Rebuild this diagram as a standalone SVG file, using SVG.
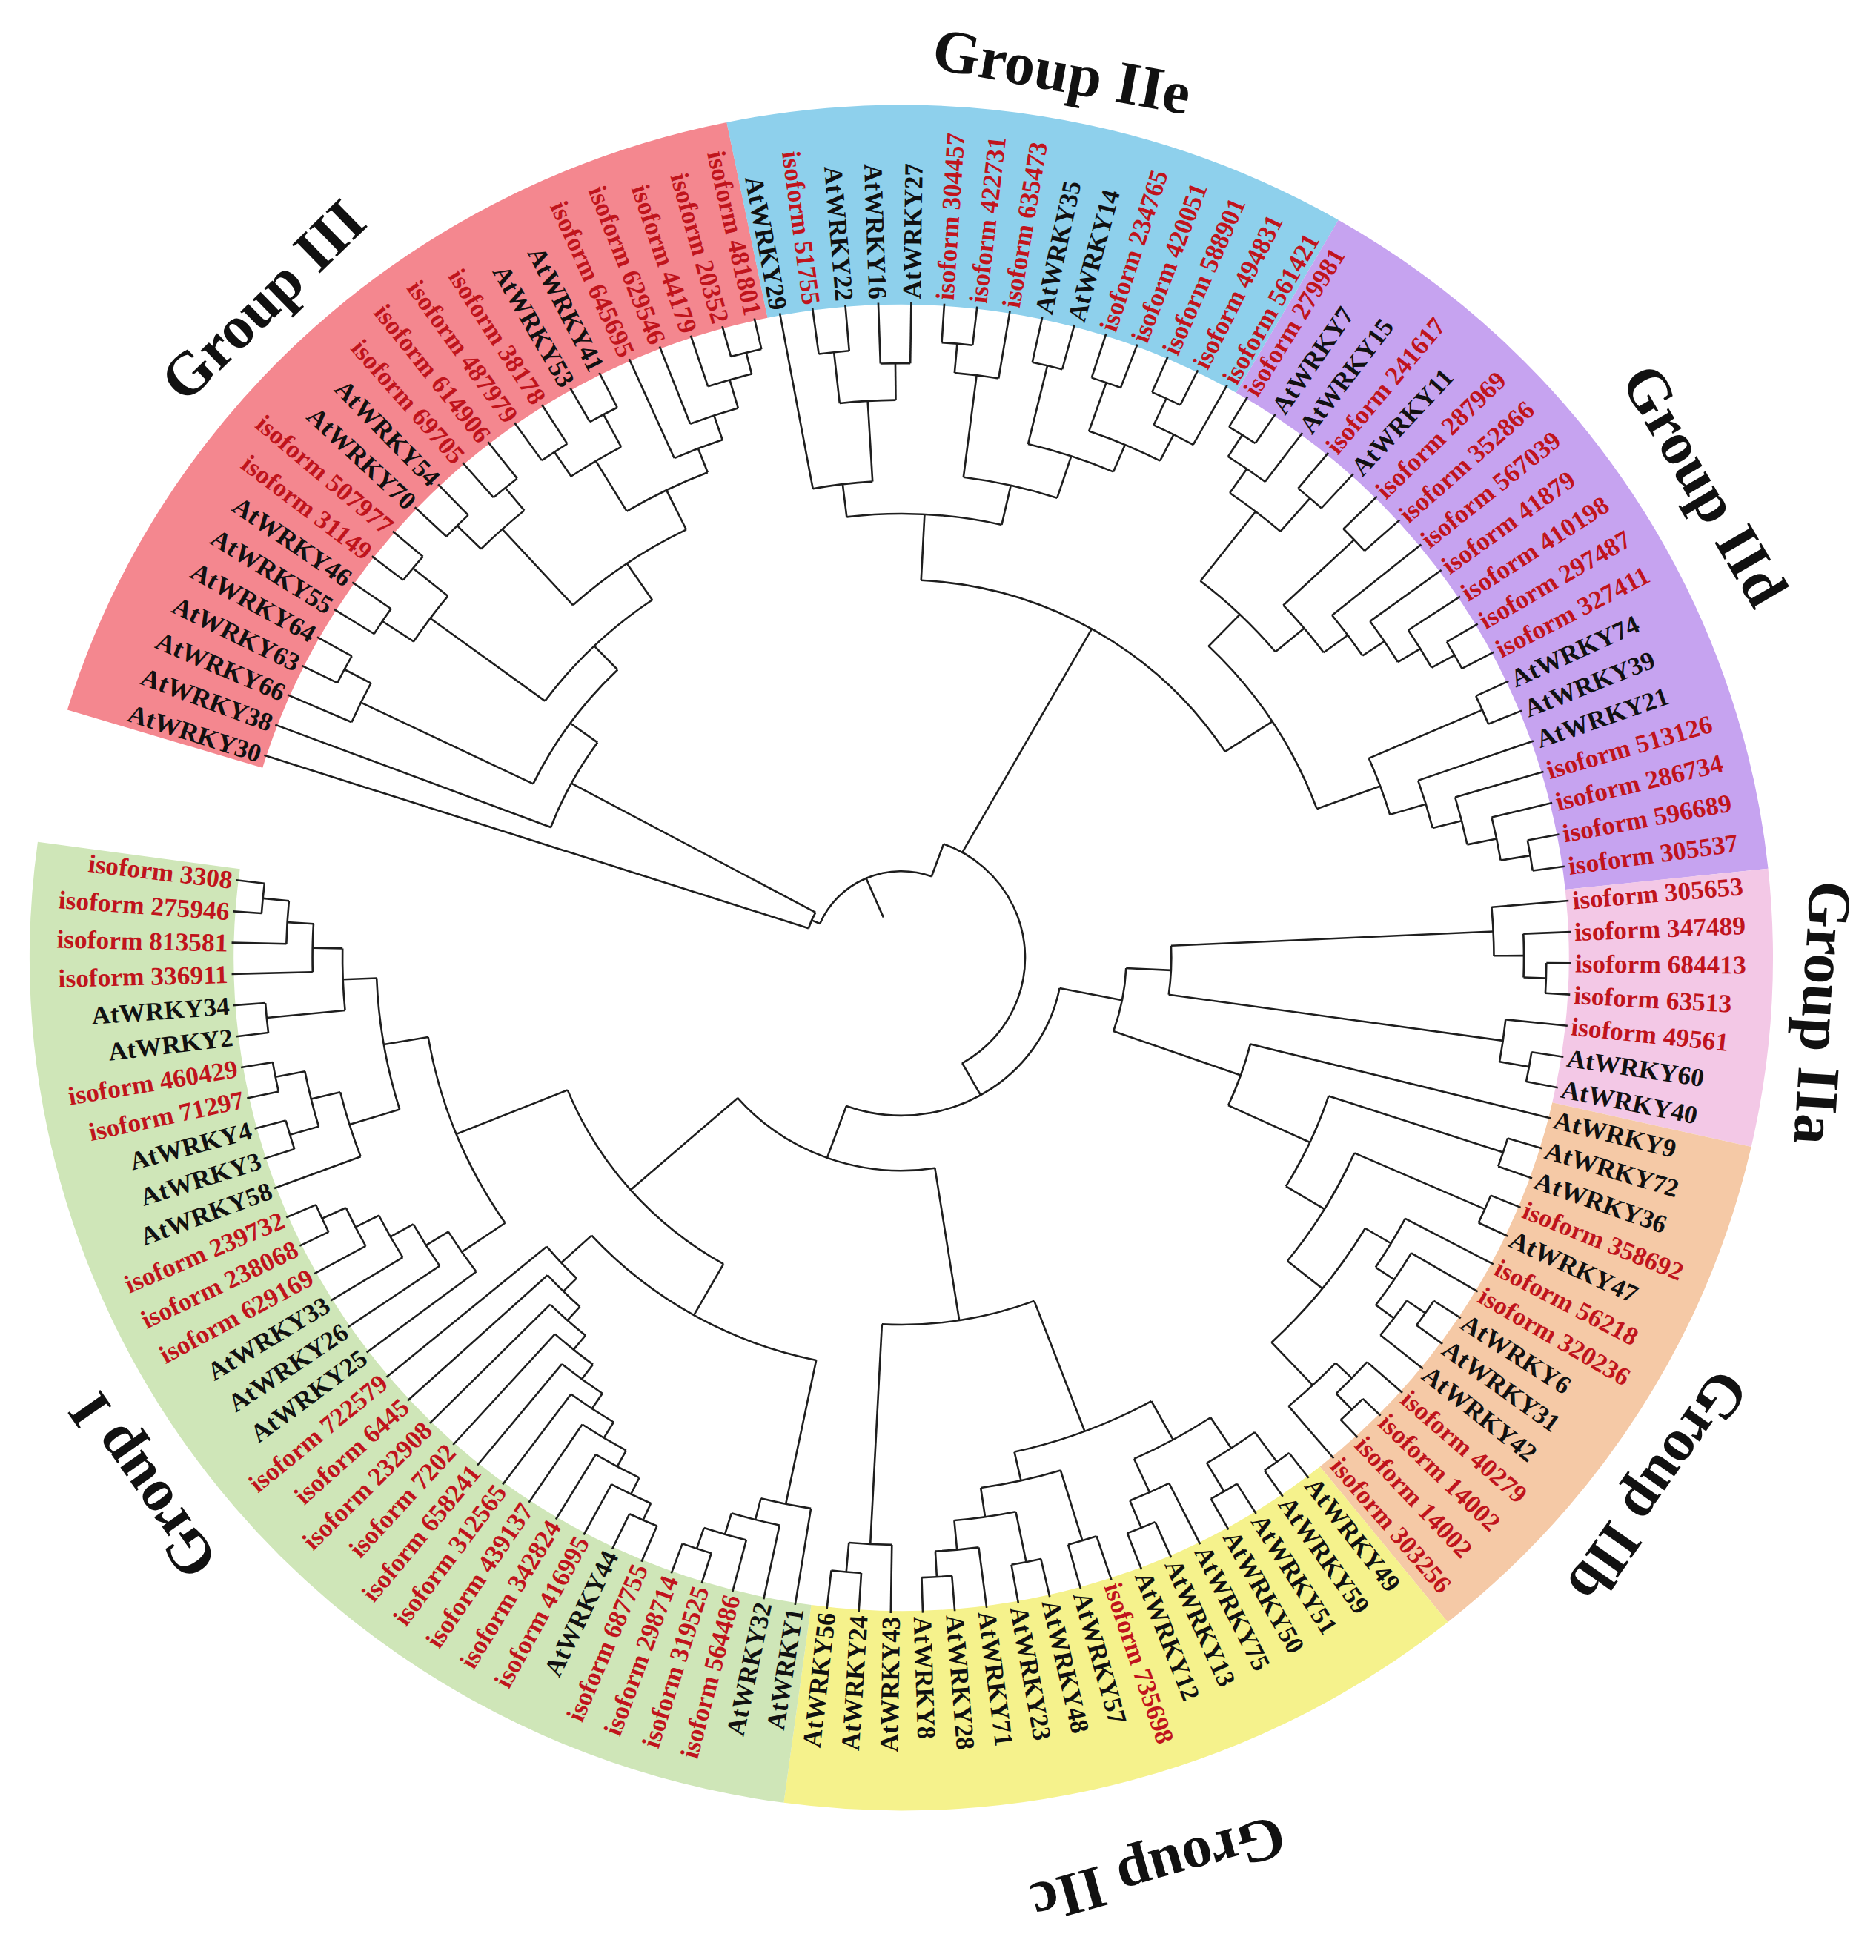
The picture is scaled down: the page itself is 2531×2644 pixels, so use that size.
<svg xmlns="http://www.w3.org/2000/svg" width="2531" height="2644" viewBox="0 0 2531 2644">
<style>
.t line,.t circle{fill:none;stroke:#1e1e1e;stroke-width:2.6}
.sec circle{fill:none;stroke-width:272}
.lb text{font-family:"Liberation Serif","Times New Roman",serif;font-size:35px;font-weight:bold;fill:#111}
.lb .r{fill:#c0141c}
.lb .e{text-anchor:end}
.gl{font-family:"Liberation Serif","Times New Roman",serif;font-size:82px;font-weight:bold;fill:#111;text-anchor:middle}
</style>
<rect width="2531" height="2644" fill="#fff"/>
<g transform="translate(1216,1292) scale(1.012,0.99)">
<g id="sectors" class="sec">
<circle id="sector-III" r="1026" stroke="#F4878F" transform="rotate(196.9)" stroke-dasharray="1102 99999"/>
<circle id="sector-IIe" r="1026" stroke="#8ED0EC" transform="rotate(258.44)" stroke-dasharray="746 99999"/>
<circle id="sector-IId" r="1026" stroke="#C6A3F0" transform="rotate(300.1)" stroke-dasharray="965.2 99999"/>
<circle id="sector-IIa" r="1026" stroke="#F3C8E6" transform="rotate(354)" stroke-dasharray="336.8 99999"/>
<circle id="sector-IIb" r="1026" stroke="#F5C9A6" transform="rotate(372.81)" stroke-dasharray="686.9 99999"/>
<circle id="sector-IIc" r="1026" stroke="#F5F28C" transform="rotate(411.17)" stroke-dasharray="834.1 99999"/>
<circle id="sector-I" r="1026" stroke="#CFE6B8" transform="rotate(457.75)" stroke-dasharray="1612.5 99999"/>
</g>
<g id="connectors" class="t">
<line x1="60" x2="118" transform="rotate(246.6)"/>
<circle r="118" transform="rotate(203.19)" stroke-dasharray="178.78 9999"/>
<g id="connectors-III" transform="rotate(1.4)">
<line x1="118" x2="130" transform="rotate(201.79)"/>
<circle r="130" transform="rotate(196.6)" stroke-dasharray="23.55 9999"/>
<line x1="130" x2="893" transform="rotate(196.6)"/>
<line x1="130" x2="500" transform="rotate(206.98)"/>
<circle r="500" transform="rotate(199.43)" stroke-dasharray="131.68 9999"/>
<line x1="500" x2="893" transform="rotate(199.43)"/>
<line x1="500" x2="545" transform="rotate(214.52)"/>
<circle r="545" transform="rotate(204.37)" stroke-dasharray="193 9999"/>
<line x1="545" x2="800" transform="rotate(204.37)"/>
<circle r="800" transform="rotate(202.25)" stroke-dasharray="59.2 9999"/>
<line x1="800" x2="893" transform="rotate(202.25)"/>
<line x1="800" x2="840" transform="rotate(206.49)"/>
<circle r="840" transform="rotate(205.08)" stroke-dasharray="41.34 9999"/>
<line x1="840" x2="893" transform="rotate(205.08)"/>
<line x1="840" x2="893" transform="rotate(207.9)"/>
<line x1="545" x2="590" transform="rotate(224.66)"/>
<circle r="590" transform="rotate(214.97)" stroke-dasharray="199.56 9999"/>
<line x1="590" x2="780" transform="rotate(214.97)"/>
<circle r="780" transform="rotate(212.14)" stroke-dasharray="76.92 9999"/>
<line x1="780" x2="830" transform="rotate(212.14)"/>
<circle r="830" transform="rotate(210.73)" stroke-dasharray="40.85 9999"/>
<line x1="830" x2="893" transform="rotate(210.73)"/>
<line x1="830" x2="893" transform="rotate(213.55)"/>
<line x1="780" x2="840" transform="rotate(217.79)"/>
<circle r="840" transform="rotate(216.38)" stroke-dasharray="41.34 9999"/>
<line x1="840" x2="893" transform="rotate(216.38)"/>
<line x1="840" x2="893" transform="rotate(219.2)"/>
<line x1="590" x2="650" transform="rotate(234.35)"/>
<circle r="650" transform="rotate(226.27)" stroke-dasharray="183.33 9999"/>
<line x1="650" x2="790" transform="rotate(226.27)"/>
<circle r="790" transform="rotate(223.44)" stroke-dasharray="77.9 9999"/>
<line x1="790" x2="835" transform="rotate(223.44)"/>
<circle r="835" transform="rotate(222.03)" stroke-dasharray="41.1 9999"/>
<line x1="835" x2="893" transform="rotate(222.03)"/>
<line x1="835" x2="893" transform="rotate(224.85)"/>
<line x1="790" x2="830" transform="rotate(229.09)"/>
<circle r="830" transform="rotate(227.68)" stroke-dasharray="40.85 9999"/>
<line x1="830" x2="893" transform="rotate(227.68)"/>
<line x1="830" x2="893" transform="rotate(230.5)"/>
<line x1="650" x2="710" transform="rotate(242.43)"/>
<circle r="710" transform="rotate(237.57)" stroke-dasharray="120.32 9999"/>
<line x1="710" x2="790" transform="rotate(237.57)"/>
<circle r="790" transform="rotate(234.74)" stroke-dasharray="77.9 9999"/>
<line x1="790" x2="830" transform="rotate(234.74)"/>
<circle r="830" transform="rotate(233.33)" stroke-dasharray="40.85 9999"/>
<line x1="830" x2="893" transform="rotate(233.33)"/>
<line x1="830" x2="893" transform="rotate(236.15)"/>
<line x1="790" x2="840" transform="rotate(240.39)"/>
<circle r="840" transform="rotate(238.98)" stroke-dasharray="41.34 9999"/>
<line x1="840" x2="893" transform="rotate(238.98)"/>
<line x1="840" x2="893" transform="rotate(241.8)"/>
<line x1="710" x2="745" transform="rotate(247.28)"/>
<circle r="745" transform="rotate(244.63)" stroke-dasharray="68.91 9999"/>
<line x1="745" x2="893" transform="rotate(244.63)"/>
<line x1="745" x2="780" transform="rotate(249.93)"/>
<circle r="780" transform="rotate(247.45)" stroke-dasharray="67.39 9999"/>
<line x1="780" x2="893" transform="rotate(247.45)"/>
<line x1="780" x2="820" transform="rotate(252.4)"/>
<circle r="820" transform="rotate(250.28)" stroke-dasharray="60.68 9999"/>
<line x1="820" x2="893" transform="rotate(250.28)"/>
<line x1="820" x2="850" transform="rotate(254.52)"/>
<circle r="850" transform="rotate(253.1)" stroke-dasharray="41.98 9999"/>
<line x1="850" x2="893" transform="rotate(253.1)"/>
<line x1="850" x2="893" transform="rotate(255.93)"/>
</g>
<line x1="118" x2="165" transform="rotate(290)"/>
<circle r="165" transform="rotate(290)" stroke-dasharray="375.87 9999"/>
<line x1="165" x2="515" transform="rotate(299.54)"/>
<circle r="515" transform="rotate(272.94)" stroke-dasharray="485.36 9999"/>
<g id="connectors-IIe" transform="rotate(0.8)">
<line x1="515" x2="605" transform="rotate(272.14)"/>
<circle r="605" transform="rotate(262.29)" stroke-dasharray="207.91 9999"/>
<line x1="605" x2="650" transform="rotate(262.29)"/>
<circle r="650" transform="rotate(258.75)" stroke-dasharray="80.21 9999"/>
<line x1="650" x2="893" transform="rotate(258.75)"/>
<line x1="650" x2="760" transform="rotate(265.82)"/>
<circle r="760" transform="rotate(262.99)" stroke-dasharray="74.94 9999"/>
<line x1="760" x2="830" transform="rotate(262.99)"/>
<circle r="830" transform="rotate(261.58)" stroke-dasharray="40.85 9999"/>
<line x1="830" x2="893" transform="rotate(261.58)"/>
<line x1="830" x2="893" transform="rotate(264.4)"/>
<line x1="760" x2="810" transform="rotate(268.64)"/>
<circle r="810" transform="rotate(267.23)" stroke-dasharray="39.87 9999"/>
<line x1="810" x2="893" transform="rotate(267.23)"/>
<line x1="810" x2="893" transform="rotate(270.05)"/>
<line x1="605" x2="660" transform="rotate(281.98)"/>
<circle r="660" transform="rotate(276.41)" stroke-dasharray="128.21 9999"/>
<line x1="660" x2="800" transform="rotate(276.41)"/>
<circle r="800" transform="rotate(274.29)" stroke-dasharray="59.2 9999"/>
<line x1="800" x2="840" transform="rotate(274.29)"/>
<circle r="840" transform="rotate(272.88)" stroke-dasharray="41.34 9999"/>
<line x1="840" x2="893" transform="rotate(272.88)"/>
<line x1="840" x2="893" transform="rotate(275.7)"/>
<line x1="800" x2="893" transform="rotate(278.53)"/>
<line x1="660" x2="720" transform="rotate(287.54)"/>
<circle r="720" transform="rotate(282.77)" stroke-dasharray="119.88 9999"/>
<line x1="720" x2="830" transform="rotate(282.77)"/>
<circle r="830" transform="rotate(281.35)" stroke-dasharray="41 9999"/>
<line x1="830" x2="893" transform="rotate(281.35)"/>
<line x1="830" x2="893" transform="rotate(284.18)"/>
<line x1="720" x2="760" transform="rotate(292.31)"/>
<circle r="760" transform="rotate(288.42)" stroke-dasharray="103.06 9999"/>
<line x1="760" x2="830" transform="rotate(288.42)"/>
<circle r="830" transform="rotate(287)" stroke-dasharray="41 9999"/>
<line x1="830" x2="893" transform="rotate(287)"/>
<line x1="830" x2="893" transform="rotate(289.83)"/>
<line x1="760" x2="800" transform="rotate(296.19)"/>
<circle r="800" transform="rotate(294.07)" stroke-dasharray="59.06 9999"/>
<line x1="800" x2="840" transform="rotate(294.07)"/>
<circle r="840" transform="rotate(292.65)" stroke-dasharray="41.49 9999"/>
<line x1="840" x2="893" transform="rotate(292.65)"/>
<line x1="840" x2="893" transform="rotate(295.48)"/>
<line x1="800" x2="893" transform="rotate(298.3)"/>
</g>
<line x1="515" x2="590" transform="rotate(326.94)"/>
<circle r="590" transform="rotate(313.98)" stroke-dasharray="266.8 9999"/>
<line x1="590" x2="650" transform="rotate(313.98)"/>
<circle r="650" transform="rotate(307.84)" stroke-dasharray="139.2 9999"/>
<line x1="650" x2="770" transform="rotate(307.84)"/>
<circle r="770" transform="rotate(304.66)" stroke-dasharray="85.47 9999"/>
<line x1="770" x2="810" transform="rotate(304.66)"/>
<circle r="810" transform="rotate(302.54)" stroke-dasharray="59.94 9999"/>
<line x1="810" x2="845" transform="rotate(302.54)"/>
<circle r="845" transform="rotate(301.13)" stroke-dasharray="41.59 9999"/>
<line x1="845" x2="893" transform="rotate(301.13)"/>
<line x1="845" x2="893" transform="rotate(303.95)"/>
<line x1="810" x2="893" transform="rotate(306.78)"/>
<line x1="770" x2="830" transform="rotate(311.02)"/>
<circle r="830" transform="rotate(309.6)" stroke-dasharray="41 9999"/>
<line x1="830" x2="893" transform="rotate(309.6)"/>
<line x1="830" x2="893" transform="rotate(312.43)"/>
<line x1="650" x2="700" transform="rotate(320.11)"/>
<circle r="700" transform="rotate(316.67)" stroke-dasharray="84.05 9999"/>
<line x1="700" x2="830" transform="rotate(316.67)"/>
<circle r="830" transform="rotate(315.25)" stroke-dasharray="41 9999"/>
<line x1="830" x2="893" transform="rotate(315.25)"/>
<line x1="830" x2="893" transform="rotate(318.08)"/>
<line x1="700" x2="740" transform="rotate(323.55)"/>
<circle r="740" transform="rotate(320.9)" stroke-dasharray="68.45 9999"/>
<line x1="740" x2="893" transform="rotate(320.9)"/>
<line x1="740" x2="775" transform="rotate(326.2)"/>
<circle r="775" transform="rotate(323.73)" stroke-dasharray="66.82 9999"/>
<line x1="775" x2="893" transform="rotate(323.73)"/>
<line x1="775" x2="810" transform="rotate(328.67)"/>
<circle r="810" transform="rotate(326.55)" stroke-dasharray="59.94 9999"/>
<line x1="810" x2="893" transform="rotate(326.55)"/>
<line x1="810" x2="845" transform="rotate(330.79)"/>
<circle r="845" transform="rotate(329.38)" stroke-dasharray="41.59 9999"/>
<line x1="845" x2="893" transform="rotate(329.38)"/>
<line x1="845" x2="893" transform="rotate(332.2)"/>
<line x1="590" x2="680" transform="rotate(339.89)"/>
<circle r="680" transform="rotate(336.44)" stroke-dasharray="81.77 9999"/>
<line x1="680" x2="845" transform="rotate(336.44)"/>
<circle r="845" transform="rotate(335.03)" stroke-dasharray="41.59 9999"/>
<line x1="845" x2="893" transform="rotate(335.03)"/>
<line x1="845" x2="893" transform="rotate(337.85)"/>
<line x1="680" x2="730" transform="rotate(343.33)"/>
<circle r="730" transform="rotate(340.68)" stroke-dasharray="67.53 9999"/>
<line x1="730" x2="893" transform="rotate(340.68)"/>
<line x1="730" x2="770" transform="rotate(345.98)"/>
<circle r="770" transform="rotate(343.5)" stroke-dasharray="66.52 9999"/>
<line x1="770" x2="893" transform="rotate(343.5)"/>
<line x1="770" x2="810" transform="rotate(348.45)"/>
<circle r="810" transform="rotate(346.33)" stroke-dasharray="59.94 9999"/>
<line x1="810" x2="893" transform="rotate(346.33)"/>
<line x1="810" x2="850" transform="rotate(350.57)"/>
<circle r="850" transform="rotate(349.15)" stroke-dasharray="41.98 9999"/>
<line x1="850" x2="893" transform="rotate(349.15)"/>
<line x1="850" x2="893" transform="rotate(351.98)"/>
<line x1="165" x2="215" transform="rotate(420.52)"/>
<circle r="215" transform="rotate(371.1)" stroke-dasharray="370.88 9999"/>
<line x1="215" x2="300" transform="rotate(371.1)"/>
<circle r="300" transform="rotate(362.71)" stroke-dasharray="87.81 9999"/>
<line x1="300" x2="360" transform="rotate(362.71)"/>
<circle r="360" transform="rotate(357.4)" stroke-dasharray="66.73 9999"/>
<line x1="360" x2="790" transform="rotate(357.4)"/>
<circle r="790" transform="rotate(355)" stroke-dasharray="66.18 9999"/>
<line x1="790" x2="893" transform="rotate(355)"/>
<line x1="790" x2="830" transform="rotate(359.8)"/>
<circle r="830" transform="rotate(357.74)" stroke-dasharray="59.54 9999"/>
<line x1="830" x2="893" transform="rotate(357.74)"/>
<line x1="830" x2="860" transform="rotate(361.85)"/>
<circle r="860" transform="rotate(360.48)" stroke-dasharray="41.13 9999"/>
<line x1="860" x2="893" transform="rotate(360.48)"/>
<line x1="860" x2="893" transform="rotate(363.22)"/>
<line x1="360" x2="810" transform="rotate(368.02)"/>
<circle r="810" transform="rotate(365.96)" stroke-dasharray="58.1 9999"/>
<line x1="810" x2="893" transform="rotate(365.96)"/>
<line x1="810" x2="850" transform="rotate(370.07)"/>
<circle r="850" transform="rotate(368.7)" stroke-dasharray="40.65 9999"/>
<line x1="850" x2="893" transform="rotate(368.7)"/>
<line x1="850" x2="893" transform="rotate(371.44)"/>
<line x1="300" x2="480" transform="rotate(379.48)"/>
<circle r="480" transform="rotate(374.18)" stroke-dasharray="88.8 9999"/>
<line x1="480" x2="893" transform="rotate(374.18)"/>
<line x1="480" x2="600" transform="rotate(384.78)"/>
<circle r="600" transform="rotate(378.29)" stroke-dasharray="135.92 9999"/>
<line x1="600" x2="845" transform="rotate(378.29)"/>
<circle r="845" transform="rotate(376.92)" stroke-dasharray="40.41 9999"/>
<line x1="845" x2="893" transform="rotate(376.92)"/>
<line x1="845" x2="893" transform="rotate(379.66)"/>
<line x1="600" x2="660" transform="rotate(391.27)"/>
<circle r="660" transform="rotate(383.77)" stroke-dasharray="172.67 9999"/>
<line x1="660" x2="850" transform="rotate(383.77)"/>
<circle r="850" transform="rotate(382.4)" stroke-dasharray="40.65 9999"/>
<line x1="850" x2="893" transform="rotate(382.4)"/>
<line x1="850" x2="893" transform="rotate(385.14)"/>
<line x1="660" x2="720" transform="rotate(398.76)"/>
<circle r="720" transform="rotate(390.8)" stroke-dasharray="200.06 9999"/>
<line x1="720" x2="760" transform="rotate(390.8)"/>
<circle r="760" transform="rotate(387.88)" stroke-dasharray="77.33 9999"/>
<line x1="760" x2="893" transform="rotate(387.88)"/>
<line x1="760" x2="790" transform="rotate(393.71)"/>
<circle r="790" transform="rotate(390.62)" stroke-dasharray="85.07 9999"/>
<line x1="790" x2="893" transform="rotate(390.62)"/>
<line x1="790" x2="820" transform="rotate(396.79)"/>
<circle r="820" transform="rotate(394.73)" stroke-dasharray="58.82 9999"/>
<line x1="820" x2="850" transform="rotate(394.73)"/>
<circle r="850" transform="rotate(393.36)" stroke-dasharray="40.65 9999"/>
<line x1="850" x2="893" transform="rotate(393.36)"/>
<line x1="850" x2="893" transform="rotate(396.1)"/>
<line x1="820" x2="893" transform="rotate(398.84)"/>
<line x1="720" x2="800" transform="rotate(406.72)"/>
<circle r="800" transform="rotate(403.64)" stroke-dasharray="86.01 9999"/>
<line x1="800" x2="830" transform="rotate(403.64)"/>
<circle r="830" transform="rotate(401.58)" stroke-dasharray="59.54 9999"/>
<line x1="830" x2="893" transform="rotate(401.58)"/>
<line x1="830" x2="860" transform="rotate(405.69)"/>
<circle r="860" transform="rotate(404.32)" stroke-dasharray="41.13 9999"/>
<line x1="860" x2="893" transform="rotate(404.32)"/>
<line x1="860" x2="893" transform="rotate(407.06)"/>
<line x1="800" x2="893" transform="rotate(409.8)"/>
<line x1="215" x2="290" transform="rotate(469.94)"/>
<circle r="290" transform="rotate(441.11)" stroke-dasharray="291.84 9999"/>
<line x1="290" x2="500" transform="rotate(441.11)"/>
<circle r="500" transform="rotate(429.25)" stroke-dasharray="206.91 9999"/>
<line x1="500" x2="690" transform="rotate(429.25)"/>
<circle r="690" transform="rotate(421.11)" stroke-dasharray="195.93 9999"/>
<line x1="690" x2="750" transform="rotate(421.11)"/>
<circle r="750" transform="rotate(416.65)" stroke-dasharray="116.63 9999"/>
<line x1="750" x2="800" transform="rotate(416.65)"/>
<circle r="800" transform="rotate(413.91)" stroke-dasharray="76.51 9999"/>
<line x1="800" x2="850" transform="rotate(413.91)"/>
<circle r="850" transform="rotate(412.54)" stroke-dasharray="40.65 9999"/>
<line x1="850" x2="893" transform="rotate(412.54)"/>
<line x1="850" x2="893" transform="rotate(415.28)"/>
<line x1="800" x2="845" transform="rotate(419.39)"/>
<circle r="845" transform="rotate(418.02)" stroke-dasharray="40.41 9999"/>
<line x1="845" x2="893" transform="rotate(418.02)"/>
<line x1="845" x2="893" transform="rotate(420.76)"/>
<line x1="750" x2="800" transform="rotate(425.56)"/>
<circle r="800" transform="rotate(423.5)" stroke-dasharray="57.39 9999"/>
<line x1="800" x2="893" transform="rotate(423.5)"/>
<line x1="800" x2="840" transform="rotate(427.61)"/>
<circle r="840" transform="rotate(426.24)" stroke-dasharray="40.17 9999"/>
<line x1="840" x2="893" transform="rotate(426.24)"/>
<line x1="840" x2="893" transform="rotate(428.98)"/>
<line x1="690" x2="730" transform="rotate(437.38)"/>
<circle r="730" transform="rotate(433.09)" stroke-dasharray="109.19 9999"/>
<line x1="730" x2="830" transform="rotate(433.09)"/>
<circle r="830" transform="rotate(431.72)" stroke-dasharray="39.69 9999"/>
<line x1="830" x2="893" transform="rotate(431.72)"/>
<line x1="830" x2="893" transform="rotate(434.46)"/>
<line x1="730" x2="770" transform="rotate(441.66)"/>
<circle r="770" transform="rotate(438.57)" stroke-dasharray="82.92 9999"/>
<line x1="770" x2="840" transform="rotate(438.57)"/>
<circle r="840" transform="rotate(437.2)" stroke-dasharray="40.17 9999"/>
<line x1="840" x2="893" transform="rotate(437.2)"/>
<line x1="840" x2="893" transform="rotate(439.94)"/>
<line x1="770" x2="810" transform="rotate(444.74)"/>
<circle r="810" transform="rotate(442.68)" stroke-dasharray="58.1 9999"/>
<line x1="810" x2="893" transform="rotate(442.68)"/>
<line x1="810" x2="845" transform="rotate(446.79)"/>
<circle r="845" transform="rotate(445.42)" stroke-dasharray="40.41 9999"/>
<line x1="845" x2="893" transform="rotate(445.42)"/>
<line x1="845" x2="893" transform="rotate(448.16)"/>
<line x1="500" x2="800" transform="rotate(452.96)"/>
<circle r="800" transform="rotate(450.9)" stroke-dasharray="57.39 9999"/>
<line x1="800" x2="893" transform="rotate(450.9)"/>
<line x1="800" x2="840" transform="rotate(455.01)"/>
<circle r="840" transform="rotate(453.64)" stroke-dasharray="40.17 9999"/>
<line x1="840" x2="893" transform="rotate(453.64)"/>
<line x1="840" x2="893" transform="rotate(456.38)"/>
<line x1="290" x2="480" transform="rotate(498.77)"/>
<circle r="480" transform="rotate(479.59)" stroke-dasharray="321.36 9999"/>
<line x1="480" x2="560" transform="rotate(479.59)"/>
<circle r="560" transform="rotate(461.69)" stroke-dasharray="349.9 9999"/>
<line x1="560" x2="760" transform="rotate(461.69)"/>
<circle r="760" transform="rotate(459.12)" stroke-dasharray="68.18 9999"/>
<line x1="760" x2="893" transform="rotate(459.12)"/>
<line x1="760" x2="790" transform="rotate(464.26)"/>
<circle r="790" transform="rotate(461.86)" stroke-dasharray="66.18 9999"/>
<line x1="790" x2="893" transform="rotate(461.86)"/>
<line x1="790" x2="820" transform="rotate(466.66)"/>
<circle r="820" transform="rotate(464.6)" stroke-dasharray="58.82 9999"/>
<line x1="820" x2="893" transform="rotate(464.6)"/>
<line x1="820" x2="850" transform="rotate(468.71)"/>
<circle r="850" transform="rotate(467.34)" stroke-dasharray="40.65 9999"/>
<line x1="850" x2="893" transform="rotate(467.34)"/>
<line x1="850" x2="893" transform="rotate(470.08)"/>
<line x1="560" x2="615" transform="rotate(497.49)"/>
<circle r="615" transform="rotate(494.75)" stroke-dasharray="58.71 9999"/>
<line x1="615" x2="893" transform="rotate(500.22)"/>
<line x1="615" x2="640" transform="rotate(494.75)"/>
<circle r="640" transform="rotate(492.02)" stroke-dasharray="60.99 9999"/>
<line x1="640" x2="893" transform="rotate(497.48)"/>
<line x1="640" x2="665" transform="rotate(492.02)"/>
<circle r="665" transform="rotate(489.29)" stroke-dasharray="63.26 9999"/>
<line x1="665" x2="893" transform="rotate(494.74)"/>
<line x1="665" x2="690" transform="rotate(489.29)"/>
<circle r="690" transform="rotate(486.57)" stroke-dasharray="65.39 9999"/>
<line x1="690" x2="893" transform="rotate(492)"/>
<line x1="690" x2="715" transform="rotate(486.57)"/>
<circle r="715" transform="rotate(483.87)" stroke-dasharray="67.26 9999"/>
<line x1="715" x2="893" transform="rotate(489.26)"/>
<line x1="715" x2="740" transform="rotate(483.87)"/>
<circle r="740" transform="rotate(481.22)" stroke-dasharray="68.45 9999"/>
<line x1="740" x2="893" transform="rotate(486.52)"/>
<line x1="740" x2="765" transform="rotate(481.22)"/>
<circle r="765" transform="rotate(478.65)" stroke-dasharray="68.49 9999"/>
<line x1="765" x2="893" transform="rotate(483.78)"/>
<line x1="765" x2="790" transform="rotate(478.65)"/>
<circle r="790" transform="rotate(476.25)" stroke-dasharray="66.04 9999"/>
<line x1="790" x2="893" transform="rotate(481.04)"/>
<line x1="790" x2="815" transform="rotate(476.25)"/>
<circle r="815" transform="rotate(474.19)" stroke-dasharray="58.46 9999"/>
<line x1="815" x2="893" transform="rotate(478.3)"/>
<line x1="815" x2="840" transform="rotate(474.19)"/>
<circle r="840" transform="rotate(472.82)" stroke-dasharray="40.17 9999"/>
<line x1="840" x2="893" transform="rotate(472.82)"/>
<line x1="840" x2="893" transform="rotate(475.56)"/>
<line x1="480" x2="640" transform="rotate(517.95)"/>
<circle r="640" transform="rotate(505.62)" stroke-dasharray="275.45 9999"/>
<line x1="640" x2="710" transform="rotate(505.62)"/>
<circle r="710" transform="rotate(502.96)" stroke-dasharray="65.8 9999"/>
<line x1="710" x2="893" transform="rotate(502.96)"/>
<line x1="710" x2="745" transform="rotate(508.27)"/>
<circle r="745" transform="rotate(505.7)" stroke-dasharray="66.83 9999"/>
<line x1="745" x2="893" transform="rotate(505.7)"/>
<line x1="745" x2="780" transform="rotate(510.84)"/>
<circle r="780" transform="rotate(508.44)" stroke-dasharray="65.34 9999"/>
<line x1="780" x2="893" transform="rotate(508.44)"/>
<line x1="780" x2="815" transform="rotate(513.24)"/>
<circle r="815" transform="rotate(511.18)" stroke-dasharray="58.46 9999"/>
<line x1="815" x2="893" transform="rotate(511.18)"/>
<line x1="815" x2="850" transform="rotate(515.29)"/>
<circle r="850" transform="rotate(513.92)" stroke-dasharray="40.65 9999"/>
<line x1="850" x2="893" transform="rotate(513.92)"/>
<line x1="850" x2="893" transform="rotate(516.66)"/>
<line x1="640" x2="700" transform="rotate(530.28)"/>
<circle r="700" transform="rotate(522.83)" stroke-dasharray="182.04 9999"/>
<line x1="700" x2="770" transform="rotate(522.83)"/>
<circle r="770" transform="rotate(519.4)" stroke-dasharray="92.06 9999"/>
<line x1="770" x2="893" transform="rotate(519.4)"/>
<line x1="770" x2="810" transform="rotate(526.25)"/>
<circle r="810" transform="rotate(523.51)" stroke-dasharray="77.47 9999"/>
<line x1="810" x2="850" transform="rotate(523.51)"/>
<circle r="850" transform="rotate(522.14)" stroke-dasharray="40.65 9999"/>
<line x1="850" x2="893" transform="rotate(522.14)"/>
<line x1="850" x2="893" transform="rotate(524.88)"/>
<line x1="810" x2="850" transform="rotate(528.99)"/>
<circle r="850" transform="rotate(527.62)" stroke-dasharray="40.65 9999"/>
<line x1="850" x2="893" transform="rotate(527.62)"/>
<line x1="850" x2="893" transform="rotate(530.36)"/>
<line x1="700" x2="745" transform="rotate(537.73)"/>
<circle r="745" transform="rotate(534.47)" stroke-dasharray="84.65 9999"/>
<line x1="745" x2="850" transform="rotate(534.47)"/>
<circle r="850" transform="rotate(533.1)" stroke-dasharray="40.65 9999"/>
<line x1="850" x2="893" transform="rotate(533.1)"/>
<line x1="850" x2="893" transform="rotate(535.84)"/>
<line x1="745" x2="785" transform="rotate(540.98)"/>
<circle r="785" transform="rotate(538.58)" stroke-dasharray="65.76 9999"/>
<line x1="785" x2="893" transform="rotate(538.58)"/>
<line x1="785" x2="820" transform="rotate(543.38)"/>
<circle r="820" transform="rotate(541.32)" stroke-dasharray="58.82 9999"/>
<line x1="820" x2="893" transform="rotate(541.32)"/>
<line x1="820" x2="855" transform="rotate(545.43)"/>
<circle r="855" transform="rotate(544.06)" stroke-dasharray="40.89 9999"/>
<line x1="855" x2="893" transform="rotate(544.06)"/>
<line x1="855" x2="893" transform="rotate(546.8)"/>
</g>
<g id="group-IIa" class="lb">
<text id="leaf0" class="r" transform="rotate(-5)" x="898" dy=".35em">isoform 305653</text>
<text id="leaf1" class="r" transform="rotate(-2.26)" x="898" dy=".35em">isoform 347489</text>
<text id="leaf2" class="r" transform="rotate(0.48)" x="898" dy=".35em">isoform 684413</text>
<text id="leaf3" class="r" transform="rotate(3.22)" x="898" dy=".35em">isoform 63513</text>
<text id="leaf4" class="r" transform="rotate(5.96)" x="898" dy=".35em">isoform 49561</text>
<text id="leaf5" transform="rotate(8.7)" x="898" dy=".35em">AtWRKY60</text>
<text id="leaf6" transform="rotate(11.44)" x="898" dy=".35em">AtWRKY40</text>
</g>
<g id="group-IIb" class="lb">
<text id="leaf7" transform="rotate(14.18)" x="898" dy=".35em">AtWRKY9</text>
<text id="leaf8" transform="rotate(16.92)" x="898" dy=".35em">AtWRKY72</text>
<text id="leaf9" transform="rotate(19.66)" x="898" dy=".35em">AtWRKY36</text>
<text id="leaf10" class="r" transform="rotate(22.4)" x="898" dy=".35em">isoform 358692</text>
<text id="leaf11" transform="rotate(25.14)" x="898" dy=".35em">AtWRKY47</text>
<text id="leaf12" class="r" transform="rotate(27.88)" x="898" dy=".35em">isoform 56218</text>
<text id="leaf13" class="r" transform="rotate(30.62)" x="898" dy=".35em">isoform 320236</text>
<text id="leaf14" transform="rotate(33.36)" x="898" dy=".35em">AtWRKY6</text>
<text id="leaf15" transform="rotate(36.1)" x="898" dy=".35em">AtWRKY31</text>
<text id="leaf16" transform="rotate(38.84)" x="898" dy=".35em">AtWRKY42</text>
<text id="leaf17" class="r" transform="rotate(41.58)" x="898" dy=".35em">isoform 40279</text>
<text id="leaf18" class="r" transform="rotate(44.32)" x="898" dy=".35em">isoform 14002</text>
<text id="leaf19" class="r" transform="rotate(47.06)" x="898" dy=".35em">isoform 14002</text>
<text id="leaf20" class="r" transform="rotate(49.8)" x="898" dy=".35em">isoform 303256</text>
</g>
<g id="group-IIc" class="lb">
<text id="leaf21" transform="rotate(52.54)" x="898" dy=".35em">AtWRKY49</text>
<text id="leaf22" transform="rotate(55.28)" x="898" dy=".35em">AtWRKY59</text>
<text id="leaf23" transform="rotate(58.02)" x="898" dy=".35em">AtWRKY51</text>
<text id="leaf24" transform="rotate(60.76)" x="898" dy=".35em">AtWRKY50</text>
<text id="leaf25" transform="rotate(63.5)" x="898" dy=".35em">AtWRKY75</text>
<text id="leaf26" transform="rotate(66.24)" x="898" dy=".35em">AtWRKY13</text>
<text id="leaf27" transform="rotate(68.98)" x="898" dy=".35em">AtWRKY12</text>
<text id="leaf28" class="r" transform="rotate(71.72)" x="898" dy=".35em">isoform 735698</text>
<text id="leaf29" transform="rotate(74.46)" x="898" dy=".35em">AtWRKY57</text>
<text id="leaf30" transform="rotate(77.2)" x="898" dy=".35em">AtWRKY48</text>
<text id="leaf31" transform="rotate(79.94)" x="898" dy=".35em">AtWRKY23</text>
<text id="leaf32" transform="rotate(82.68)" x="898" dy=".35em">AtWRKY71</text>
<text id="leaf33" transform="rotate(85.42)" x="898" dy=".35em">AtWRKY28</text>
<text id="leaf34" transform="rotate(88.16)" x="898" dy=".35em">AtWRKY8</text>
<text id="leaf35" class="e" transform="rotate(-89.1)" x="-898" dy=".35em">AtWRKY43</text>
<text id="leaf36" class="e" transform="rotate(-86.36)" x="-898" dy=".35em">AtWRKY24</text>
<text id="leaf37" class="e" transform="rotate(-83.62)" x="-898" dy=".35em">AtWRKY56</text>
</g>
<g id="group-I" class="lb">
<text id="leaf38" class="e" transform="rotate(-80.88)" x="-898" dy=".35em">AtWRKY1</text>
<text id="leaf39" class="e" transform="rotate(-78.14)" x="-898" dy=".35em">AtWRKY32</text>
<text id="leaf40" class="r e" transform="rotate(-75.4)" x="-898" dy=".35em">isoform 564486</text>
<text id="leaf41" class="r e" transform="rotate(-72.66)" x="-898" dy=".35em">isoform 319525</text>
<text id="leaf42" class="r e" transform="rotate(-69.92)" x="-898" dy=".35em">isoform 298714</text>
<text id="leaf43" class="r e" transform="rotate(-67.18)" x="-898" dy=".35em">isoform 687755</text>
<text id="leaf44" class="e" transform="rotate(-64.44)" x="-898" dy=".35em">AtWRKY44</text>
<text id="leaf45" class="r e" transform="rotate(-61.7)" x="-898" dy=".35em">isoform 416995</text>
<text id="leaf46" class="r e" transform="rotate(-58.96)" x="-898" dy=".35em">isoform 342824</text>
<text id="leaf47" class="r e" transform="rotate(-56.22)" x="-898" dy=".35em">isoform 439137</text>
<text id="leaf48" class="r e" transform="rotate(-53.48)" x="-898" dy=".35em">isoform 312565</text>
<text id="leaf49" class="r e" transform="rotate(-50.74)" x="-898" dy=".35em">isoform 658241</text>
<text id="leaf50" class="r e" transform="rotate(-48)" x="-898" dy=".35em">isoform 7202</text>
<text id="leaf51" class="r e" transform="rotate(-45.26)" x="-898" dy=".35em">isoform 232908</text>
<text id="leaf52" class="r e" transform="rotate(-42.52)" x="-898" dy=".35em">isoform 6445</text>
<text id="leaf53" class="r e" transform="rotate(-39.78)" x="-898" dy=".35em">isoform 722579</text>
<text id="leaf54" class="e" transform="rotate(-37.04)" x="-898" dy=".35em">AtWRKY25</text>
<text id="leaf55" class="e" transform="rotate(-34.3)" x="-898" dy=".35em">AtWRKY26</text>
<text id="leaf56" class="e" transform="rotate(-31.56)" x="-898" dy=".35em">AtWRKY33</text>
<text id="leaf57" class="r e" transform="rotate(-28.82)" x="-898" dy=".35em">isoform 629169</text>
<text id="leaf58" class="r e" transform="rotate(-26.08)" x="-898" dy=".35em">isoform 238068</text>
<text id="leaf59" class="r e" transform="rotate(-23.34)" x="-898" dy=".35em">isoform 239732</text>
<text id="leaf60" class="e" transform="rotate(-20.6)" x="-898" dy=".35em">AtWRKY58</text>
<text id="leaf61" class="e" transform="rotate(-17.86)" x="-898" dy=".35em">AtWRKY3</text>
<text id="leaf62" class="e" transform="rotate(-15.12)" x="-898" dy=".35em">AtWRKY4</text>
<text id="leaf63" class="r e" transform="rotate(-12.38)" x="-898" dy=".35em">isoform 71297</text>
<text id="leaf64" class="r e" transform="rotate(-9.64)" x="-898" dy=".35em">isoform 460429</text>
<text id="leaf65" class="e" transform="rotate(-6.9)" x="-898" dy=".35em">AtWRKY2</text>
<text id="leaf66" class="e" transform="rotate(-4.16)" x="-898" dy=".35em">AtWRKY34</text>
<text id="leaf67" class="r e" transform="rotate(-1.42)" x="-898" dy=".35em">isoform 336911</text>
<text id="leaf68" class="r e" transform="rotate(1.32)" x="-898" dy=".35em">isoform 813581</text>
<text id="leaf69" class="r e" transform="rotate(4.06)" x="-898" dy=".35em">isoform 275946</text>
<text id="leaf70" class="r e" transform="rotate(6.8)" x="-898" dy=".35em">isoform 3308</text>
</g>
<g id="group-III" class="lb" transform="rotate(1.4)">
<text id="leaf71" class="e" transform="rotate(16.6)" x="-898" dy=".35em">AtWRKY30</text>
<text id="leaf72" class="e" transform="rotate(19.43)" x="-898" dy=".35em">AtWRKY38</text>
<text id="leaf73" class="e" transform="rotate(22.25)" x="-898" dy=".35em">AtWRKY66</text>
<text id="leaf74" class="e" transform="rotate(25.08)" x="-898" dy=".35em">AtWRKY63</text>
<text id="leaf75" class="e" transform="rotate(27.9)" x="-898" dy=".35em">AtWRKY64</text>
<text id="leaf76" class="e" transform="rotate(30.73)" x="-898" dy=".35em">AtWRKY55</text>
<text id="leaf77" class="e" transform="rotate(33.55)" x="-898" dy=".35em">AtWRKY46</text>
<text id="leaf78" class="r e" transform="rotate(36.38)" x="-898" dy=".35em">isoform 31149</text>
<text id="leaf79" class="r e" transform="rotate(39.2)" x="-898" dy=".35em">isoform 507977</text>
<text id="leaf80" class="e" transform="rotate(42.03)" x="-898" dy=".35em">AtWRKY70</text>
<text id="leaf81" class="e" transform="rotate(44.85)" x="-898" dy=".35em">AtWRKY54</text>
<text id="leaf82" class="r e" transform="rotate(47.68)" x="-898" dy=".35em">isoform 69705</text>
<text id="leaf83" class="r e" transform="rotate(50.5)" x="-898" dy=".35em">isoform 614906</text>
<text id="leaf84" class="r e" transform="rotate(53.33)" x="-898" dy=".35em">isoform 487979</text>
<text id="leaf85" class="r e" transform="rotate(56.15)" x="-898" dy=".35em">isoform 38178</text>
<text id="leaf86" class="e" transform="rotate(58.98)" x="-898" dy=".35em">AtWRKY53</text>
<text id="leaf87" class="e" transform="rotate(61.8)" x="-898" dy=".35em">AtWRKY41</text>
<text id="leaf88" class="r e" transform="rotate(64.63)" x="-898" dy=".35em">isoform 645695</text>
<text id="leaf89" class="r e" transform="rotate(67.45)" x="-898" dy=".35em">isoform 629546</text>
<text id="leaf90" class="r e" transform="rotate(70.28)" x="-898" dy=".35em">isoform 44179</text>
<text id="leaf91" class="r e" transform="rotate(73.1)" x="-898" dy=".35em">isoform 20352</text>
<text id="leaf92" class="r e" transform="rotate(75.93)" x="-898" dy=".35em">isoform 481801</text>
</g>
<g id="group-IIe" class="lb" transform="rotate(0.8)">
<text id="leaf93" class="e" transform="rotate(78.75)" x="-898" dy=".35em">AtWRKY29</text>
<text id="leaf94" class="r e" transform="rotate(81.58)" x="-898" dy=".35em">isoform 51755</text>
<text id="leaf95" class="e" transform="rotate(84.4)" x="-898" dy=".35em">AtWRKY22</text>
<text id="leaf96" class="e" transform="rotate(87.23)" x="-898" dy=".35em">AtWRKY16</text>
<text id="leaf97" transform="rotate(-89.95)" x="898" dy=".35em">AtWRKY27</text>
<text id="leaf98" class="r" transform="rotate(-87.12)" x="898" dy=".35em">isoform 304457</text>
<text id="leaf99" class="r" transform="rotate(-84.3)" x="898" dy=".35em">isoform 422731</text>
<text id="leaf100" class="r" transform="rotate(-81.47)" x="898" dy=".35em">isoform 635473</text>
<text id="leaf101" transform="rotate(-78.65)" x="898" dy=".35em">AtWRKY35</text>
<text id="leaf102" transform="rotate(-75.82)" x="898" dy=".35em">AtWRKY14</text>
<text id="leaf103" class="r" transform="rotate(-73)" x="898" dy=".35em">isoform 234765</text>
<text id="leaf104" class="r" transform="rotate(-70.17)" x="898" dy=".35em">isoform 420051</text>
<text id="leaf105" class="r" transform="rotate(-67.35)" x="898" dy=".35em">isoform 588901</text>
<text id="leaf106" class="r" transform="rotate(-64.52)" x="898" dy=".35em">isoform 494831</text>
<text id="leaf107" class="r" transform="rotate(-61.7)" x="898" dy=".35em">isoform 561421</text>
</g>
<g id="group-IId" class="lb">
<text id="leaf108" class="r" transform="rotate(-58.87)" x="898" dy=".35em">isoform 279981</text>
<text id="leaf109" transform="rotate(-56.05)" x="898" dy=".35em">AtWRKY7</text>
<text id="leaf110" transform="rotate(-53.22)" x="898" dy=".35em">AtWRKY15</text>
<text id="leaf111" class="r" transform="rotate(-50.4)" x="898" dy=".35em">isoform 241617</text>
<text id="leaf112" transform="rotate(-47.57)" x="898" dy=".35em">AtWRKY11</text>
<text id="leaf113" class="r" transform="rotate(-44.75)" x="898" dy=".35em">isoform 287969</text>
<text id="leaf114" class="r" transform="rotate(-41.92)" x="898" dy=".35em">isoform 352866</text>
<text id="leaf115" class="r" transform="rotate(-39.1)" x="898" dy=".35em">isoform 567039</text>
<text id="leaf116" class="r" transform="rotate(-36.27)" x="898" dy=".35em">isoform 41879</text>
<text id="leaf117" class="r" transform="rotate(-33.45)" x="898" dy=".35em">isoform 410198</text>
<text id="leaf118" class="r" transform="rotate(-30.62)" x="898" dy=".35em">isoform 297487</text>
<text id="leaf119" class="r" transform="rotate(-27.8)" x="898" dy=".35em">isoform 327411</text>
<text id="leaf120" transform="rotate(-24.97)" x="898" dy=".35em">AtWRKY74</text>
<text id="leaf121" transform="rotate(-22.15)" x="898" dy=".35em">AtWRKY39</text>
<text id="leaf122" transform="rotate(-19.32)" x="898" dy=".35em">AtWRKY21</text>
<text id="leaf123" class="r" transform="rotate(-16.5)" x="898" dy=".35em">isoform 513126</text>
<text id="leaf124" class="r" transform="rotate(-13.67)" x="898" dy=".35em">isoform 286734</text>
<text id="leaf125" class="r" transform="rotate(-10.85)" x="898" dy=".35em">isoform 596689</text>
<text id="leaf126" class="r" transform="rotate(-8.02)" x="898" dy=".35em">isoform 305537</text>
</g>
</g>
<g id="group-titles" transform="translate(1216,1288)">
<text id="title-III" class="gl" transform="rotate(315.7) translate(0,-1206)">Group III</text>
<text id="title-IIe" class="gl" transform="rotate(10.3) translate(0,-1184)">Group IIe</text>
<text id="title-IId" class="gl" transform="rotate(59.7) translate(0,-1228)">Group IId</text>
<text id="title-IIa" class="gl" transform="rotate(93.6) translate(0,-1218)">Group IIa</text>
<text id="title-IIb" class="gl" transform="rotate(125.1) translate(0,-1220)">Group IIb</text>
<text id="title-IIc" class="gl" transform="rotate(164.3) translate(0,-1255)">Group IIc</text>
<text id="title-I" class="gl" transform="rotate(235) translate(0,-1222)">Group I</text>
</g>
</svg>
